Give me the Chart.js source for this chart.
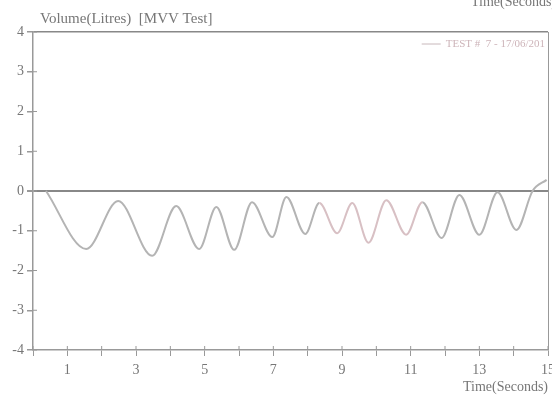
<!DOCTYPE html>
<html>
<head>
<meta charset="utf-8">
<script src="https://cdn.jsdelivr.net/npm/chart.js@4"></script>
<style>
html, body { margin: 0; padding: 0; background: #fff; }
#wrap { width: 552px; height: 406px; }
</style>
</head>
<body>
<div id="wrap"><canvas id="mvv" width="552" height="406"></canvas></div>
<script>
// turning points of the trace
const timeSec = [0.38, 1.55, 2.48, 3.47, 4.17, 4.84, 5.34, 5.86, 6.38, 6.97, 7.38, 7.93, 8.34, 8.86,
	9.30, 9.77, 10.29, 10.87, 11.34, 11.90, 12.42, 13.00, 13.53, 14.08, 14.55, 14.96];
const volumeL = [0, -1.46, -0.25, -1.63, -0.38, -1.46, -0.40, -1.48, -0.28, -1.16, -0.15, -1.08, -0.30, -1.06,
	-0.30, -1.30, -0.23, -1.10, -0.28, -1.18, -0.10, -1.10, -0.03, -0.98, 0, 0.28];
const xLabelTicks = [1, 3, 5, 7, 9, 11, 13, 15];
const seriesName = 'TEST #  7 - 17/06/201';
const yTitle = 'Volume(Litres)  [MVV Test]';
const xTitle = 'Time(Seconds)';

const axisGrey = '#999';
const textGrey = '#777';
const lineGrey = '#b4b4b4';
const serif = "'Liberation Serif', serif";

// captions outside the axes, inward tick stubs, and the small legend top right
const captions = {
	id: 'captions',
	afterDraw(chart) {
		const c = chart.ctx;
		const area = chart.chartArea;
		c.save();

		// tick marks also poke a little into the plot
		c.strokeStyle = axisGrey;
		c.lineWidth = 1;
		c.beginPath();
		chart.scales.y.ticks.forEach(t => {
			const py = chart.scales.y.getPixelForValue(t.value);
			c.moveTo(area.left, py);
			c.lineTo(area.left + 4, py);
		});
		chart.scales.x.ticks.forEach(t => {
			const px = chart.scales.x.getPixelForValue(t.value);
			c.moveTo(px, area.bottom);
			c.lineTo(px, area.bottom - 4);
		});
		c.stroke();

		c.fillStyle = textGrey;
		c.font = '15px ' + serif;
		c.textAlign = 'left';
		c.textBaseline = 'alphabetic';
		c.fillText(yTitle, 40, 23);
		c.font = '14px ' + serif;
		c.textAlign = 'right';
		c.fillText(xTitle, 556, 6);

		// legend
		const ly = area.top + 12;
		c.font = '11px ' + serif;
		c.fillStyle = '#cdb4b9';
		c.textAlign = 'right';
		c.textBaseline = 'middle';
		const tx = area.right - 3;
		c.fillText(seriesName, tx, ly);
		const tw = c.measureText(seriesName).width;
		c.strokeStyle = '#c8b8bb';
		c.beginPath();
		c.moveTo(tx - tw - 24, ly);
		c.lineTo(tx - tw - 5, ly);
		c.stroke();
		c.restore();
	}
};

new Chart(document.getElementById('mvv').getContext('2d'), {
	type: 'line',
	data: {
		datasets: [{
			label: seriesName,
			data: timeSec.map((t, i) => ({ x: t, y: volumeL[i] })),
			borderColor: lineGrey,
			backgroundColor: lineGrey,
			borderWidth: 2,
			pointRadius: 0,
			cubicInterpolationMode: 'monotone',
			segment: {
				borderColor: ctx => (ctx.p0.parsed.x >= 8.3 && ctx.p0.parsed.x < 11.3) ? '#d8c0c4' : undefined
			}
		}]
	},
	plugins: [captions],
	options: {
		responsive: false,
		animation: false,
		layout: { padding: { top: 32, right: 4, bottom: 8, left: 0 } },
		plugins: {
			legend: { display: false },
			tooltip: { enabled: false }
		},
		scales: {
			x: {
				type: 'linear',
				min: 0,
				max: 15,
				afterFit: s => { s.height = 48; s.paddingRight = 0; s.paddingLeft = 0; },
				ticks: {
					stepSize: 1,
					autoSkip: false,
					maxRotation: 0,
					padding: 6,
					color: textGrey,
					font: { family: serif, size: 14 },
					callback: v => xLabelTicks.includes(v) ? String(v) : ''
				},
				grid: {
					color: ctx => (ctx.tick && ctx.tick.value === 15) ? axisGrey : 'rgba(0,0,0,0)',
					tickColor: axisGrey,
					tickLength: 6
				},
				border: { color: axisGrey, width: 1.5 },
				title: {
					display: true,
					text: xTitle,
					align: 'end',
					color: textGrey,
					font: { family: serif, size: 14 },
					padding: { top: 0, bottom: 2 }
				}
			},
			y: {
				min: -4,
				max: 4,
				afterFit: s => { s.width = 33; },
				ticks: {
					stepSize: 1,
					padding: 3,
					color: textGrey,
					font: { family: serif, size: 14 }
				},
				grid: {
					color: ctx => (ctx.tick && (ctx.tick.value === 0 || ctx.tick.value === 4)) ? '#888' : 'rgba(0,0,0,0)',
					lineWidth: ctx => (ctx.tick && ctx.tick.value === 0) ? 2 : 1.5,
					tickColor: axisGrey,
					tickLength: 6
				},
				border: { color: axisGrey, width: 1.5 }
			}
		}
	}
});
</script>
</body>
</html>
